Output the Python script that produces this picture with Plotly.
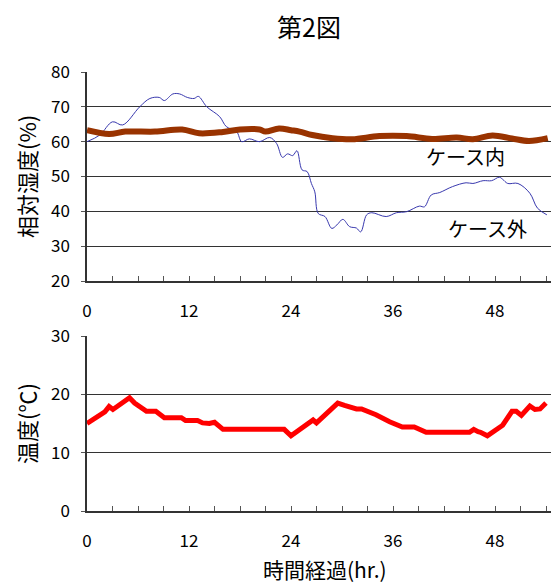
import plotly.graph_objects as go
from plotly.subplots import make_subplots

# ---- data (hours, values) ----
in_t = [0, 2.6, 4.5, 8, 11.2, 13.2, 16, 18, 20.3, 21, 22.6, 24, 25, 26.5, 28.9, 31.2, 34.4, 37.6, 40.6, 43.5, 45.4, 47.7, 50, 52, 54.2]
in_rh = [63.3, 62.2, 62.9, 62.9, 63.5, 62.4, 62.8, 63.5, 63.5, 62.9, 63.8, 63.3, 62.9, 61.9, 61.0, 60.7, 61.6, 61.6, 60.8, 61.2, 60.7, 61.8, 60.9, 60.2, 61.0]

out_t = [0, 1.5, 3, 4.2, 6.2, 7.4, 8.5, 9.1, 10.1, 10.9, 11.8, 12.6, 13.1, 14.1, 15.6, 16.4, 17.6, 18.2, 19.1, 20.3, 21.5, 22.3, 23, 23.6, 24.2, 24.7, 25.3, 25.9, 26.4, 26.8, 27.2,
         28, 28.8, 29.4, 30.1, 30.9, 31.7, 32.2, 32.9, 33.5, 35.2, 36.4, 37.6, 39.1, 39.7, 40.5, 41.5, 43, 44.6, 45.4, 46.6, 47.6, 48.5, 48.9, 49.5, 50.7, 52.1, 53, 54.1]
out_rh = [60.0, 61.9, 65.7, 64.8, 70.0, 72.4, 72.7, 71.8, 73.7, 73.7, 72.7, 72.4, 73.0, 70.0, 67.2, 64.3, 62.9, 60.0, 60.8, 60.0, 61.2, 59.5, 55.5, 56.5, 56.0, 57.4, 51.9, 51.4, 48.0, 45.6, 39.4,
          38.5, 35.1, 36.1, 37.7, 35.6, 35.2, 34.1, 39.0, 39.6, 38.5, 39.6, 39.9, 41.5, 41.3, 44.7, 45.4, 47.1, 48.2, 48.0, 48.8, 48.8, 49.8, 49.2, 48.0, 48.0, 45.2, 40.9, 39.0]

temp_t = [0, 1.1, 2.1, 2.6, 3.05, 5, 5.6, 7, 8.1, 9.1, 11.1, 11.6, 13, 13.6, 14.4, 15, 16, 22.6, 23.2, 24, 25.2, 26.6, 27, 27.8, 28.5, 29.5, 30.3, 31.7, 32.3, 34, 35.6, 37.1, 38.5, 39.9,
          45, 45.5, 46, 46.3, 47.1, 47.9, 48.9, 50, 50.5, 51.1, 52.1, 52.7, 53.3, 54]
temp = [15.0, 16.0, 17.0, 17.9, 17.4, 19.4, 18.5, 17.1, 17.1, 16.0, 16.0, 15.5, 15.5, 15.1, 15.0, 15.2, 14.0, 14.0, 14.0, 12.9, 14.2, 15.6, 15.1, 16.1, 17.0, 18.5, 18.1, 17.5, 17.5, 16.5, 15.3, 14.4, 14.4, 13.5,
        13.5, 14.0, 13.6, 13.5, 12.9, 13.8, 14.7, 17.1, 17.1, 16.4, 18.0, 17.4, 17.5, 18.5]

x_ticks = [0, 12, 24, 36, 48]

FONT = "Noto Sans CJK JP"

# page shows the figure offset by 8px (body margin); compensate
L, T, B = 79, 64, 82
W, H = 559, 585
PW = W - L
PH = H - T - B

fig = make_subplots(rows=2, cols=1, vertical_spacing=0.0)

fig.add_trace(go.Scatter(x=out_t, y=out_rh, mode="lines", line=dict(color="#3838AE", width=1),
                         line_shape="spline", showlegend=False), row=1, col=1)
fig.add_trace(go.Scatter(x=in_t, y=in_rh, mode="lines", line=dict(color="#993300", width=6),
                         line_shape="spline", showlegend=False), row=1, col=1)
fig.add_trace(go.Scatter(x=temp_t, y=temp, mode="lines", line=dict(color="#FF0000", width=5),
                         showlegend=False), row=2, col=1)

xcommon = dict(range=[0, PW / 8.5], tickvals=x_ticks, ticks="inside", ticklen=5, tickcolor="#555",
               minor=dict(dtick=3, tick0=0, ticks="inside", ticklen=5, tickcolor="#555"),
               showgrid=False, showline=True, linecolor="#333", linewidth=1.5,
               zeroline=False, ticklabelstandoff=14,
               tickfont=dict(family=FONT, size=17, color="black"))
fig.update_xaxes(**xcommon, domain=[0, 1])

ycommon = dict(showline=True, linecolor="#333", linewidth=1.5, showgrid=True,
               gridcolor="#333", gridwidth=1, zeroline=False, ticks="outside", ticklen=4,
               tickcolor="#555", ticklabelstandoff=8,
               tickfont=dict(family=FONT, size=17, color="black"))
fig.update_yaxes(**ycommon)
fig.update_yaxes(range=[20, 80], dtick=10, domain=[(511 - 281) / PH, 1], row=1, col=1)
fig.update_yaxes(range=[0, 30], dtick=10, domain=[0, (511 - 336) / PH], row=2, col=1)


def px_x(p):
    return (p - 8 - L) / PW


def px_y(p):
    return (H - B - (p - 8)) / PH


annos = [
    dict(text="ケース内", x=44.5, y=55.7, xref="x", yref="y", showarrow=False,
         font=dict(family=FONT, size=20, color="black")),
    dict(text="ケース外", x=47.1, y=35.2, xref="x", yref="y", showarrow=False,
         font=dict(family=FONT, size=20, color="black")),
    dict(text="相対湿度(%)", x=px_x(26), y=px_y(177), xref="paper", yref="paper", textangle=-90,
         xanchor="center", yanchor="middle",
         showarrow=False, font=dict(family=FONT, size=22, color="black")),
    dict(text="温度(℃)", x=px_x(26), y=px_y(424), xref="paper", yref="paper", textangle=-90,
         xanchor="center", yanchor="middle",
         showarrow=False, font=dict(family=FONT, size=22, color="black")),
    dict(text="時間経過(hr.)", x=px_x(325), y=px_y(569), xref="paper", yref="paper",
         xanchor="center", yanchor="middle",
         showarrow=False, font=dict(family=FONT, size=21, color="black")),
]

fig.update_layout(
    width=W, height=H,
    margin=dict(l=L, r=0, t=T, b=B),
    paper_bgcolor="white", plot_bgcolor="white",
    title=dict(text="第2図", x=(309 - 8) / W, xanchor="center", y=1 - (28 - 8) / H, yanchor="middle",
               font=dict(family=FONT, size=25, color="black")),
    annotations=annos,
    showlegend=False,
)

fig.write_html("out.html")
